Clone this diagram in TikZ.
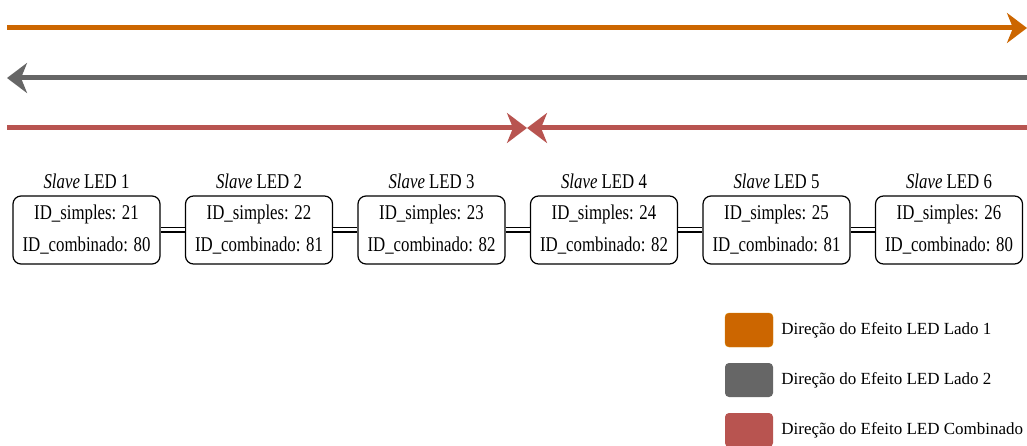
\documentclass[tikz,border=0pt]{standalone}
\usepackage{fontspec}
\setmainfont{Liberation Serif}
\newfontfamily\estreita[FakeStretch=0.8]{Liberation Serif}
\usetikzlibrary{arrows.meta,positioning}
\definecolor{lado1}{HTML}{CC6600}
\definecolor{lado2}{HTML}{666666}
\definecolor{comb}{HTML}{B85450}

\begin{document}
\begin{tikzpicture}[x=1pt,y=-1pt,
	seta/.style={line width=5pt,-{Stealth[length=20pt,width=30pt,inset=6pt]}},
	ledbox/.style={draw,line width=1.2pt,rounded corners=8pt,minimum width=147pt,minimum height=68pt,
		align=center,font=\estreita\fontsize{21}{32}\selectfont,inner sep=0pt},
	ledtitle/.style={font=\estreita\fontsize{21}{24}\selectfont,label distance=3pt},
	cabo/.style={draw=black,double=white,double distance=3pt,line width=1.2pt},
	swatch/.style={rounded corners=4pt,minimum width=48pt,minimum height=34pt,inner sep=0pt},
	legtext/.style={right=8pt,font=\rmfamily\fontsize{17}{20}\selectfont,inner sep=0pt}]
	\useasboundingbox (0,0) rectangle (1027,446);
	% direcoes do efeito
	\coordinate (o1) at (7,28);
	\coordinate (o2) at (1027,28);
	\coordinate (g1) at (1027,78);
	\coordinate (g2) at (7,78);
	\coordinate (r1) at (7,128);
	\coordinate (r2) at (1027,128);
	\coordinate (rm) at (527,128);
	\draw[seta,lado1] (o1)--(o2);
	\draw[seta,lado2] (g1)--(g2);
	\draw[seta,comb] (r1)--(rm);
	\draw[seta,comb] (r2)--(rm);
	% slaves
	\node[ledbox,label={[ledtitle]above:{\textit{Slave} LED 1}}] (led1) at (86.5,230) {ID\_simples: 21\\ID\_combinado: 80};
	\node[ledbox,label={[ledtitle]above:{\textit{Slave} LED 2}}] (led2) at (259,230) {ID\_simples: 22\\ID\_combinado: 81};
	\node[ledbox,label={[ledtitle]above:{\textit{Slave} LED 3}}] (led3) at (431.5,230) {ID\_simples: 23\\ID\_combinado: 82};
	\node[ledbox,label={[ledtitle]above:{\textit{Slave} LED 4}}] (led4) at (604,230) {ID\_simples: 24\\ID\_combinado: 82};
	\node[ledbox,label={[ledtitle]above:{\textit{Slave} LED 5}}] (led5) at (776.5,230) {ID\_simples: 25\\ID\_combinado: 81};
	\node[ledbox,label={[ledtitle]above:{\textit{Slave} LED 6}}] (led6) at (949,230) {ID\_simples: 26\\ID\_combinado: 80};
	\foreach \a/\b in {1/2,2/3,3/4,4/5,5/6}
		\draw[cabo] (led\a) -- (led\b);
	% legenda
	\node[swatch,fill=lado1,draw=lado1!80!yellow] (s1) at (749,330) {};
	\node[swatch,fill=lado2] (s2) at (749,380) {};
	\node[swatch,fill=comb] (s3) at (749,430) {};
	\node[legtext] (t1) at (s1.east) {Direção do Efeito LED Lado 1};
	\node[legtext] (t2) at (s2.east) {Direção do Efeito LED Lado 2};
	\node[legtext] (t3) at (s3.east) {Direção do Efeito LED Combinado};
\end{tikzpicture}
\end{document}
